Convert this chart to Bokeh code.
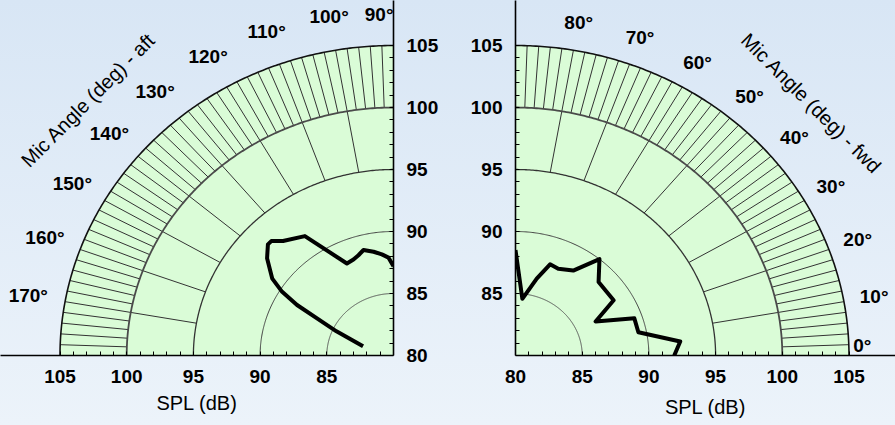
import numpy as np
from bokeh.plotting import figure
from bokeh.layouts import row
from bokeh.models import FixedTicker, Range1d
from bokeh.core.properties import value
from bokeh.embed import file_html
from bokeh.resources import INLINE

# ---------------- data ----------------
aft_angle = [90, 92.7, 96.1, 100.1, 104.8, 108, 111.2, 115.2, 124.6, 131.9, 134.8,
             136.4, 140.4, 145.7, 148.4, 150.6, 152.4, 155.5, 162]
aft_spl = [87.2, 87.9, 88.2, 88.5, 88.8, 88.5, 88.3, 88.2, 91.7, 92.4, 93.0,
           93.0, 92.3, 91.0, 89.8, 88.3, 86.5, 84.7, 82.4]
fwd_angle = [90, 83.6, 75.6, 70.6, 65.4, 57.7, 51, 43.6, 31.2, 24.5, 18.6, 11.5, 5.2, 0]
fwd_spl = [88.5, 84.6, 86.4, 87.8, 87.7, 88.1, 90.0, 88.6, 88.6, 86.6, 89.4, 89.4, 92.4, 91.9]

spl_min, spl_max = 80, 105
ring_levels = [85, 90, 95, 100, 105]
aft_angle_ticks = [90, 100, 110, 120, 130, 140, 150, 160, 170]
fwd_angle_ticks = [0, 10, 20, 30, 40, 50, 60, 70, 80]
left_x_ticks = [85, 90, 95, 100, 105]
left_y_ticks = [80, 85, 90, 95, 100, 105]
right_x_ticks = [80, 85, 90, 95, 100, 105]
right_y_ticks = [85, 90, 95, 100, 105]
minor_ticks = [v for v in range(80, 106) if v % 5 != 0]

FONT = "Liberation Sans"
FILL = "#dafcd7"
FS_TICK = "19px"
FS_TITLE = "20px"

ring_style = {85: ("#555555", 1.0), 90: ("#444444", 1.0), 95: ("#333333", 1.3),
              100: ("#4a4a4a", 1.8), 105: ("#111111", 1.6)}

W_L, W_R, H = 448, 447, 425
BOTTOM = 70
RB_L = 55          # right border of left panel  -> axis at x=393
LB_R = 67          # left border of right panel  -> axis at x=515
SX, SY = 13.34, 12.4


def to_xy(theta_deg, spl, side):
    t = np.radians(np.asarray(theta_deg, dtype=float))
    r = np.asarray(spl, dtype=float) - spl_min
    c = np.cos(t)
    x = spl_min - r * c if side == "aft" else spl_min + r * c
    y = spl_min + r * np.sin(t)
    return x, y


def make_panel(side):
    yr = Range1d(start=spl_min, end=spl_min + (H - BOTTOM) / SY)
    if side == "aft":
        frame_w = W_L - RB_L
        xr = Range1d(start=spl_min + frame_w / SX, end=spl_min)
        th0, th1 = 90, 180
        fig = figure(width=W_L, height=H, x_range=xr, y_range=yr,
                     output_backend="svg", toolbar_location=None,
                     x_axis_location="below", y_axis_location="right",
                     min_border_left=0, min_border_top=0, min_border_right=RB_L,
                     min_border_bottom=BOTTOM)
        xt, yt = left_x_ticks, left_y_ticks
        ang_ticks = aft_angle_ticks
        lab_r = [27.5 if a == 90 else 27.8 for a in ang_ticks]
        # the edge label sits against the axis so that it stays inside the frame
        aligns = ["right" if a == 90 else "center" for a in ang_ticks]
        baselines = ["middle"] * len(ang_ticks)
        title_txt, title_th, title_r, title_rot = "Mic Angle (deg) - aft", 138.0, 30.8, np.pi / 4
        ang, spl = aft_angle, aft_spl
        axis_label_standoff = 6
    else:
        frame_w = W_R - LB_R
        xr = Range1d(start=spl_min, end=spl_min + frame_w / SX)
        th0, th1 = 0, 90
        fig = figure(width=W_R, height=H, x_range=xr, y_range=yr,
                     output_backend="svg", toolbar_location=None,
                     x_axis_location="below", y_axis_location="left",
                     min_border_left=LB_R, min_border_top=0, min_border_right=0,
                     min_border_bottom=BOTTOM)
        xt, yt = right_x_ticks, right_y_ticks
        ang_ticks = fwd_angle_ticks
        lab_r = [26.0 if a == 0 else 27.3 for a in ang_ticks]
        aligns = ["center"] * len(ang_ticks)
        baselines = ["bottom" if a == 0 else "middle" for a in ang_ticks]
        title_txt, title_th, title_r, title_rot = "Mic Angle (deg) - fwd", 42.5, 30.1, -np.pi / 4
        ang, spl = fwd_angle, fwd_spl
        axis_label_standoff = 10

    fig.background_fill_alpha = 0
    fig.border_fill_alpha = 0
    fig.outline_line_color = None
    fig.grid.visible = False

    # quadrant fill
    th = np.linspace(th0, th1, 181)
    ax, ay = to_xy(th, np.full_like(th, spl_max), side)
    cx, cy = to_xy([th0], [spl_min], side)
    fig.patch(np.concatenate([cx, ax]), np.concatenate([cy, ay]),
              fill_color=FILL, line_color=None)

    # spokes: every 10 deg from 95 to 105, every 2 deg from 100 to 105
    xs, ys = [], []
    for a in range(th0 + 2, th1, 2):
        inner = 95 if a % 10 == 0 else 100
        sx_, sy_ = to_xy([a, a], [inner, spl_max], side)
        xs.append(list(sx_)); ys.append(list(sy_))
    fig.multi_line(xs, ys, line_color="#333333", line_width=1.0)

    # rings
    for lev in ring_levels:
        rx, ry = to_xy(th, np.full_like(th, lev), side)
        col, lw = ring_style[lev]
        fig.line(rx, ry, line_color=col, line_width=lw)

    # data curve
    dx, dy = to_xy(ang, spl, side)
    fig.line(dx, dy, line_color="black", line_width=4, line_join="round")

    # angle labels
    lx, ly = to_xy(ang_ticks, [spl_min + r for r in lab_r], side)
    for a, x_, y_, al, bl in zip(ang_ticks, lx, ly, aligns, baselines):
        fig.text([float(x_)], [float(y_)], text=[f"{a}\u00b0"], text_font=value(FONT),
                 text_font_size=FS_TICK, text_font_style="bold", text_align=al,
                 text_baseline=bl, text_color="black")

    # mic angle title
    tx, ty = to_xy([title_th], [spl_min + title_r], side)
    fig.text(tx, ty, text=[title_txt], angle=title_rot, text_font=value(FONT),
             text_font_size=FS_TITLE, text_align="center", text_baseline="middle",
             text_color="black")

    # axes
    for axis, ticks in ((fig.xaxis[0], xt), (fig.yaxis[0], yt)):
        axis.ticker = FixedTicker(ticks=ticks, minor_ticks=minor_ticks)
        axis.axis_line_color = "black"
        axis.axis_line_width = 1.6
        axis.major_tick_in = 4
        axis.major_tick_out = 0
        axis.minor_tick_in = 4
        axis.minor_tick_out = 0
        axis.major_tick_line_color = "black"
        axis.minor_tick_line_color = "black"
        axis.major_label_text_font = FONT
        axis.major_label_text_font_size = FS_TICK
        axis.major_label_text_font_style = "bold"
        axis.major_label_text_color = "black"
    fig.xaxis.major_label_standoff = 14
    fig.yaxis.major_label_standoff = 13
    fig.xaxis.axis_label = "SPL (dB)"
    fig.xaxis.axis_label_text_font = FONT
    fig.xaxis.axis_label_text_font_size = FS_TITLE
    fig.xaxis.axis_label_text_font_style = "normal"
    fig.xaxis.axis_label_text_color = "black"
    fig.xaxis.axis_label_standoff = axis_label_standoff
    return fig


p = row(make_panel("aft"), make_panel("fwd"))

html = file_html(p, INLINE)
html = html.replace("</head>", "<style>html{background:linear-gradient(180deg,#d8e6f5 0%,#ecf3fa 100%);min-height:100%;}body{background:transparent;}</style></head>")
open("out.html", "w").write(html)
